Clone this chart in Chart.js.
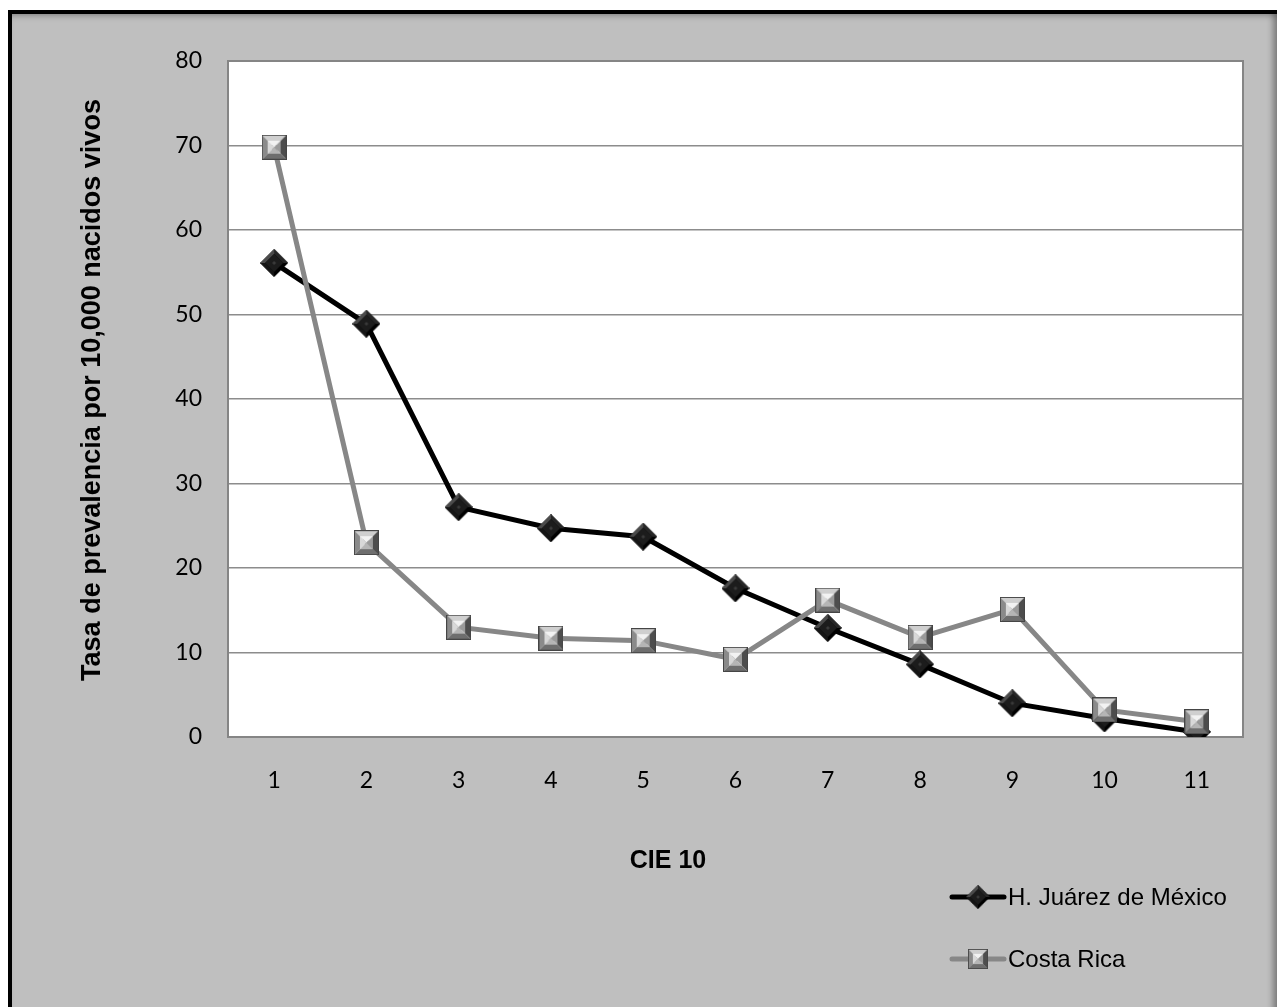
<!DOCTYPE html>
<html>
<head>
<meta charset="utf-8">
<script src="https://cdn.jsdelivr.net/npm/chart.js@4/dist/chart.umd.min.js"></script>
<style>
  html, body { margin: 0; padding: 0; background: #fff; }
  #frame {
    position: absolute; left: 8px; top: 10px; width: 1265px; height: 1100px;
    border-left: 4px solid #000; border-top: 4px solid #000;
    background: #bfbfbf;
    box-shadow: inset -7px 0 6px -3px rgba(0,0,0,0.35), inset 0 6px 6px -4px rgba(0,0,0,0.25);
  }
  #chart { position: absolute; left: 0; top: 0; }
</style>
</head>
<body>
<div id="frame"></div>
<canvas id="chart" width="1281" height="1007"></canvas>
<script>
"use strict";

// data
const categories = ['1', '2', '3', '4', '5', '6', '7', '8', '9', '10', '11'];
const mexico = [56.1, 48.9, 27.2, 24.7, 23.7, 17.6, 12.9, 8.6, 4.0, 2.2, 0.6];
const costaRica = [69.8, 23.0, 13.0, 11.7, 11.4, 9.2, 16.2, 11.8, 15.1, 3.2, 1.8];
const seriesNames = ['H. Juárez de México', 'Costa Rica'];
const yTicks = [0, 10, 20, 30, 40, 50, 60, 70, 80];

const yTitle = 'Tasa de prevalencia por 10,000 nacidos vivos';
const xTitle = 'CIE 10';

// bevelled marker images, like the office chart markers
function makeSquare() {
    const s = 25, b = 6;
    const c = document.createElement('canvas');
    c.width = s; c.height = s;
    const g = c.getContext('2d');
    const poly = (pts, col) => {
        g.beginPath();
        g.moveTo(pts[0][0], pts[0][1]);
        pts.slice(1).forEach(p => g.lineTo(p[0], p[1]));
        g.closePath();
        g.fillStyle = col;
        g.fill();
    };
    poly([[0, 0], [s, 0], [s - b, b], [b, b]], '#cfcfcf');       // top
    poly([[0, 0], [b, b], [b, s - b], [0, s]], '#8a8a8a');       // left
    poly([[s, 0], [s, s], [s - b, s - b], [s - b, b]], '#4d4d4d'); // right
    poly([[0, s], [b, s - b], [s - b, s - b], [s, s]], '#6e6e6e'); // bottom
    // centre face with crossed shading
    poly([[b, b], [s - b, b], [s / 2, s / 2]], '#f2f2f2');
    poly([[b, b], [s / 2, s / 2], [b, s - b]], '#d8d8d8');
    poly([[s - b, b], [s - b, s - b], [s / 2, s / 2]], '#9a9a9a');
    poly([[b, s - b], [s / 2, s / 2], [s - b, s - b]], '#b5b5b5');
    g.strokeStyle = '#454545';
    g.lineWidth = 1;
    g.strokeRect(0.5, 0.5, s - 1, s - 1);
    return c;
}

function makeDiamond() {
    const s = 28, h = s / 2, i = 5;
    const c = document.createElement('canvas');
    c.width = s; c.height = s;
    const g = c.getContext('2d');
    const poly = (pts, col) => {
        g.beginPath();
        g.moveTo(pts[0][0], pts[0][1]);
        pts.slice(1).forEach(p => g.lineTo(p[0], p[1]));
        g.closePath();
        g.fillStyle = col;
        g.fill();
    };
    poly([[h, 0], [s, h], [h, s], [0, h]], '#000');
    poly([[h, 0], [h, i], [i, h], [0, h]], '#4a4a4a');
    poly([[h, 0], [s, h], [s - i, h], [h, i]], '#262626');
    poly([[0, h], [i, h], [h, s - i], [h, s]], '#151515');
    poly([[h, i], [s - i, h], [h, s - i], [i, h]], '#1c1c1c');
    poly([[h, h - 2], [h + 2, h], [h, h + 2], [h - 2, h]], '#3a3a3a');
    return c;
}

const squareImg = makeSquare();
const diamondImg = makeDiamond();

const lineColors = ['#000000', '#878787'];
const markers = [diamondImg, squareImg];

const framePlugin = {
    id: 'framePlugin',
    beforeDraw(chart) {
        const { ctx, chartArea: a } = chart;
        ctx.save();
        ctx.fillStyle = '#ffffff';
        ctx.fillRect(a.left, a.top, a.right - a.left, a.bottom - a.top);
        ctx.restore();
    },
    afterDraw(chart) {
        const { ctx, chartArea: a } = chart;
        ctx.save();
        ctx.strokeStyle = '#858585';
        ctx.lineWidth = 2;
        ctx.beginPath();
        ctx.moveTo(a.left, a.top);
        ctx.lineTo(a.right, a.top);
        ctx.lineTo(a.right, a.bottom);
        ctx.stroke();

        // axis titles
        ctx.fillStyle = '#000';
        ctx.font = 'bold 25px "Liberation Sans", Arial, sans-serif';
        ctx.textAlign = 'center';
        ctx.textBaseline = 'middle';
        ctx.fillText(xTitle, 668, 861);
        ctx.font = 'bold 27px "Liberation Sans", Arial, sans-serif';
        ctx.translate(93, 390);
        ctx.rotate(-Math.PI / 2);
        ctx.fillText(yTitle, 0, 0);
        ctx.restore();

        // legend, stacked at the bottom right
        ctx.save();
        const rows = [897, 959];
        seriesNames.forEach((name, k) => {
            const y = rows[k];
            ctx.strokeStyle = lineColors[k];
            ctx.lineWidth = 5;
            ctx.lineCap = 'round';
            ctx.beginPath();
            ctx.moveTo(952, y);
            ctx.lineTo(1004, y);
            ctx.stroke();
            const m = markers[k];
            const w = k === 0 ? 24 : 20;
            ctx.drawImage(m, 978 - w / 2, y - w / 2, w, w);
            ctx.fillStyle = '#000';
            ctx.font = '24px "Liberation Sans", Arial, sans-serif';
            ctx.textAlign = 'left';
            ctx.textBaseline = 'middle';
            ctx.fillText(name, 1008, y + 1);
        });
        ctx.restore();
    }
};

new Chart(document.getElementById('chart'), {
    type: 'line',
    data: {
        labels: categories,
        datasets: [
            {
                label: seriesNames[0],
                data: mexico,
                borderColor: lineColors[0],
                borderWidth: 5,
                pointStyle: diamondImg,
                pointRadius: 14,
                tension: 0,
                order: 1
            },
            {
                label: seriesNames[1],
                data: costaRica,
                borderColor: lineColors[1],
                borderWidth: 5,
                pointStyle: squareImg,
                pointRadius: 13,
                tension: 0,
                order: 0
            }
        ]
    },
    options: {
        responsive: false,
        animation: false,
        devicePixelRatio: 1,
        layout: { padding: { top: 61, right: 38, left: 0, bottom: 0 } },
        plugins: {
            legend: { display: false },
            tooltip: { enabled: false }
        },
        scales: {
            x: {
                offset: true,
                grid: { display: false, drawTicks: false },
                border: { display: true, color: '#858585', width: 2 },
                ticks: {
                    color: '#000',
                    padding: 30,
                    font: { family: 'Lato, "Open Sans", sans-serif', size: 23 }
                },
                afterFit(scale) { scale.height = 270; }
            },
            y: {
                min: 0,
                max: 80,
                afterBuildTicks(scale) { scale.ticks = yTicks.map(v => ({ value: v })); },
                grid: { color: '#8c8c8c', lineWidth: 1.5, drawTicks: false },
                border: { display: true, color: '#858585', width: 2 },
                ticks: {
                    color: '#000',
                    padding: 26,
                    font: { family: 'Lato, "Open Sans", sans-serif', size: 23 }
                },
                afterFit(scale) { scale.width = 228; }
            }
        }
    },
    plugins: [framePlugin]
});
</script>
</body>
</html>
